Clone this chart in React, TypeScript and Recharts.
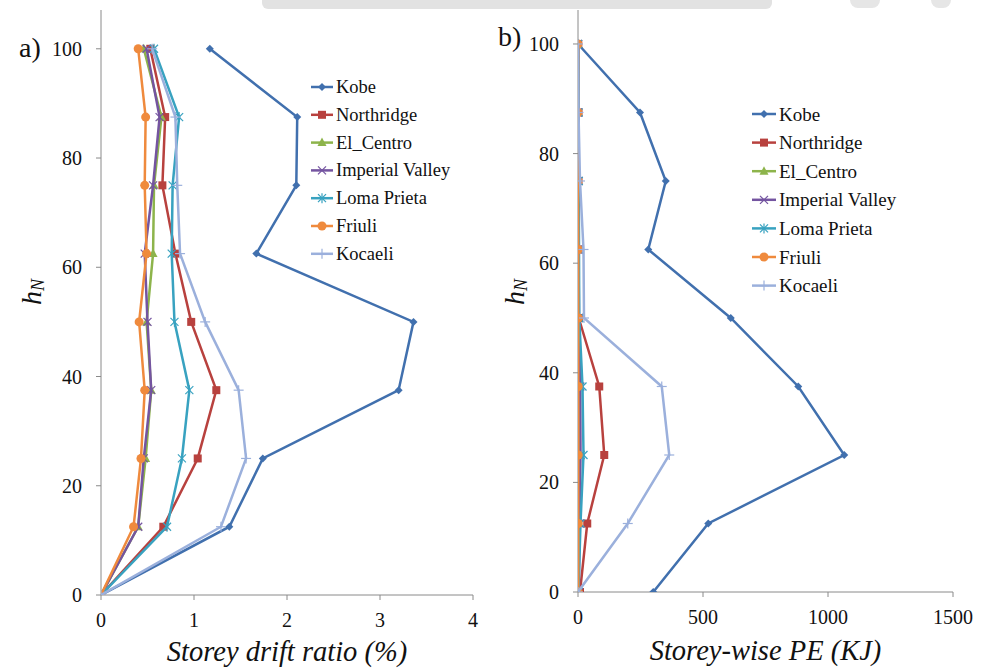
import React from "react";
import { ScatterChart, Scatter, XAxis, YAxis, Legend, Label } from "recharts";

// Storey heights (normalised, %)
const HEIGHTS = [0, 12.5, 25, 37.5, 50, 62.5, 75, 87.5, 100];

// Record names
const RECORDS = ["Kobe", "Northridge", "El_Centro", "Imperial Valley", "Loma Prieta", "Friuli", "Kocaeli"];

// Storey drift ratio (%) per record, from ground to roof
const kobeDrift = [0, 1.38, 1.74, 3.2, 3.36, 1.67, 2.1, 2.11, 1.17];
const northridgeDrift = [0, 0.67, 1.04, 1.24, 0.97, 0.8, 0.66, 0.69, 0.53];
const elCentroDrift = [0, 0.4, 0.48, 0.54, 0.49, 0.56, 0.57, 0.65, 0.46];
const imperialDrift = [0, 0.4, 0.46, 0.54, 0.5, 0.47, 0.56, 0.63, 0.49];
const lomaDrift = [0, 0.71, 0.87, 0.95, 0.79, 0.76, 0.77, 0.84, 0.57];
const friuliDrift = [0, 0.35, 0.43, 0.47, 0.41, 0.49, 0.47, 0.48, 0.4];
const kocaeliDrift = [0, 1.29, 1.56, 1.48, 1.12, 0.85, 0.82, 0.8, 0.55];

// Storey-wise plastic energy (KJ) per record, from ground to roof
const kobePE = [301, 521, 1065, 881, 611, 281, 351, 248, 0];
const northridgePE = [8, 37, 105, 85, 3, 2, 2, 2, 1];
const elCentroPE = [2, 3, 4, 4, 2, 1, 1, 1, 0];
const imperialPE = [3, 6, 10, 9, 4, 2, 2, 1, 0];
const lomaPE = [2, 10, 22, 18, 5, 4, 3, 2, 0];
const friuliPE = [1, 1, 1, 1, 1, 1, 0, 0, 0];
const kocaeliPE = [0, 199, 365, 335, 24, 22, 8, 2, 0];

// Axis ticks
const DRIFT_TICKS = [0, 1, 2, 3, 4];
const PE_TICKS = [0, 500, 1000, 1500];
const H_TICKS = [0, 20, 40, 60, 80, 100];

const COLORS = ["#4170ae", "#b8413e", "#8db44b", "#7454a0", "#38a2c0", "#ef8a3d", "#9bb0dc"];
const MARKERS = ["diamond", "square", "triangle", "cross", "star", "circle", "plus"];

const SERIF = "Liberation Serif, Tinos, Times New Roman, DejaVu Serif, serif";

const toPoints = (xs: number[]) => xs.map((x, i) => ({ x, y: HEIGHTS[i] }));

const driftSeries = [kobeDrift, northridgeDrift, elCentroDrift, imperialDrift, lomaDrift, friuliDrift, kocaeliDrift];
const peSeries = [kobePE, northridgePE, elCentroPE, imperialPE, lomaPE, friuliPE, kocaeliPE];

function Marker({ kind, cx, cy, color }: { kind: string; cx: number; cy: number; color: string }) {
  switch (kind) {
    case "diamond":
      return <polygon points={`${cx},${cy - 4} ${cx + 4},${cy} ${cx},${cy + 4} ${cx - 4},${cy}`} fill={color} />;
    case "square":
      return <rect x={cx - 4} y={cy - 4} width={8} height={8} fill={color} />;
    case "triangle":
      return <polygon points={`${cx},${cy - 5} ${cx + 4.5},${cy + 3.5} ${cx - 4.5},${cy + 3.5}`} fill={color} />;
    case "cross":
      return (
        <g stroke={color} strokeWidth={1.2}>
          <line x1={cx - 4} y1={cy - 4} x2={cx + 4} y2={cy + 4} />
          <line x1={cx - 4} y1={cy + 4} x2={cx + 4} y2={cy - 4} />
        </g>
      );
    case "star":
      return (
        <g stroke={color} strokeWidth={1.2}>
          <line x1={cx - 4} y1={cy - 4} x2={cx + 4} y2={cy + 4} />
          <line x1={cx - 4} y1={cy + 4} x2={cx + 4} y2={cy - 4} />
          <line x1={cx} y1={cy - 5} x2={cx} y2={cy + 5} />
        </g>
      );
    case "circle":
      return <circle cx={cx} cy={cy} r={4.5} fill={color} />;
    case "plus":
      return (
        <g stroke={color} strokeWidth={1.2}>
          <line x1={cx - 5} y1={cy} x2={cx + 5} y2={cy} />
          <line x1={cx} y1={cy - 5} x2={cx} y2={cy + 5} />
        </g>
      );
    default:
      return null;
  }
}

function LegendBox({ rowGap, lineLen, textSize }: { rowGap: number; lineLen: number; textSize: number }) {
  return (
    <svg width={190} height={rowGap * 7 + 10} style={{ display: "block", fontFamily: SERIF }}>
      {RECORDS.map((name, i) => {
        const y = 17 + i * rowGap;
        return (
          <g key={name}>
            <line x1={6} y1={y} x2={6 + lineLen} y2={y} stroke={COLORS[i]} strokeWidth={2.5} />
            <Marker kind={MARKERS[i]} cx={6 + lineLen / 2} cy={y} color={COLORS[i]} />
            <text x={9 + lineLen} y={y} dominantBaseline="central" style={{ fontFamily: SERIF }} fontSize={textSize} fill="#111">
              {name}
            </text>
          </g>
        );
      })}
    </svg>
  );
}

function HeightLabel({ cx, cy, tag, tagX, tagY }: { cx: number; cy: number; tag: string; tagX: number; tagY: number }) {
  return (
    <g style={{ fontFamily: SERIF }}>
      <text
        x={cx}
        y={cy}
        transform={`rotate(-90, ${cx}, ${cy})`}
        textAnchor="middle"
        dominantBaseline="central"
        style={{ fontFamily: SERIF, fontStyle: "italic" }}
        fontSize={28}
        fill="#111"
      >
        <tspan>h</tspan>
        <tspan fontSize={18} dy={7}>N</tspan>
      </text>
      <text x={tagX} y={tagY} style={{ fontFamily: SERIF }} fontSize={28} fill="#111">
        {tag}
      </text>
    </g>
  );
}

const axisStroke = "#8a8a8a";
const tickStyle = { fontSize: 20, fill: "#111", style: { fontFamily: SERIF } };

type PanelProps = {
  series: number[][];
  xDomain: [number, number];
  xTicks: number[];
  yMax: number;
  width: number;
  rightMargin: number;
  yAxisWidth: number;
  xAxisHeight: number;
  title: string;
  titleOffset: number;
  tag: string;
  labelX: number;
  tagX: number;
  tagY: number;
  legendLeft: number;
  legendTop: number;
  rowGap: number;
  lineLen: number;
  textSize: number;
};

function Panel(p: PanelProps) {
  return (
    <ScatterChart
      width={p.width}
      height={669}
      margin={{ top: 10, right: p.rightMargin, bottom: 0, left: 0 }}
      style={{ fontFamily: SERIF }}
    >
      <XAxis
        type="number"
        dataKey="x"
        domain={p.xDomain}
        ticks={p.xTicks}
        allowDataOverflow
        height={p.xAxisHeight}
        stroke={axisStroke}
        tickSize={5}
        tickMargin={13}
        tick={tickStyle}
        interval={0}
      >
        <Label
          value={p.title}
          position="insideBottom"
          offset={p.titleOffset}
          style={{ fontFamily: SERIF, fontStyle: "italic", fontSize: 28.5, fill: "#111" }}
        />
      </XAxis>
      <YAxis
        type="number"
        dataKey="y"
        domain={[0, p.yMax]}
        ticks={H_TICKS}
        allowDataOverflow
        width={p.yAxisWidth}
        stroke={axisStroke}
        tickSize={5}
        tickMargin={14}
        tick={tickStyle}
        interval={0}
      >
        <Label
          content={() => <HeightLabel cx={p.labelX} cy={292} tag={p.tag} tagX={p.tagX} tagY={p.tagY} />}
        />
      </YAxis>
      <Legend
        layout="vertical"
        align="center"
        verticalAlign="middle"
        wrapperStyle={{ left: p.legendLeft, top: p.legendTop, width: 190 }}
        content={() => <LegendBox rowGap={p.rowGap} lineLen={p.lineLen} textSize={p.textSize} />}
      />
      {p.series.map((vals, i) => (
        <Scatter
          key={RECORDS[i]}
          name={RECORDS[i]}
          data={toPoints(vals)}
          fill={COLORS[i]}
          line={{ stroke: COLORS[i], strokeWidth: 2.5 }}
          lineType="joint"
          isAnimationActive={false}
          shape={(props: any) => <Marker kind={MARKERS[i]} cx={props.cx} cy={props.cy} color={COLORS[i]} />}
        />
      ))}
    </ScatterChart>
  );
}

export default function App() {
  return (
    <div
      style={{
        position: "absolute",
        left: 0,
        top: 0,
        width: 981,
        height: 669,
        background: "#fff",
        overflow: "hidden",
        fontFamily: SERIF,
      }}
    >
      {/* light header band */}
      <div style={{ position: "absolute", left: 262, top: 0, width: 510, height: 9, background: "#e2e2e2", borderRadius: "0 0 6px 6px" }} />
      <div style={{ position: "absolute", left: 850, top: 0, width: 30, height: 8, background: "#e6e6e6", borderRadius: "0 0 8px 8px" }} />
      <div style={{ position: "absolute", left: 931, top: 0, width: 20, height: 8, background: "#e6e6e6", borderRadius: "0 0 8px 8px" }} />
      <div style={{ position: "absolute", left: 0, top: 0 }}>
        <Panel
          series={driftSeries}
          xDomain={[0, 4]}
          xTicks={DRIFT_TICKS}
          yMax={107.1}
          width={490}
          rightMargin={17}
          yAxisWidth={101}
          xAxisHeight={74}
          title="Storey drift ratio (%)"
          titleOffset={8}
          tag="a)"
          labelX={31}
          tagX={19}
          tagY={57}
          legendLeft={305}
          legendTop={70}
          rowGap={27.8}
          lineLen={22}
          textSize={18.5}
        />
      </div>
      <div style={{ position: "absolute", left: 490, top: 0 }}>
        <Panel
          series={peSeries}
          xDomain={[0, 1500]}
          xTicks={PE_TICKS}
          yMax={106.2}
          width={491}
          rightMargin={28}
          yAxisWidth={88}
          xAxisHeight={77}
          title="Storey-wise PE (KJ)"
          titleOffset={9}
          tag="b)"
          labelX={24}
          tagX={8}
          tagY={46}
          legendLeft={256}
          legendTop={97}
          rowGap={28.6}
          lineLen={24}
          textSize={19}
        />
      </div>
    </div>
  );
}
